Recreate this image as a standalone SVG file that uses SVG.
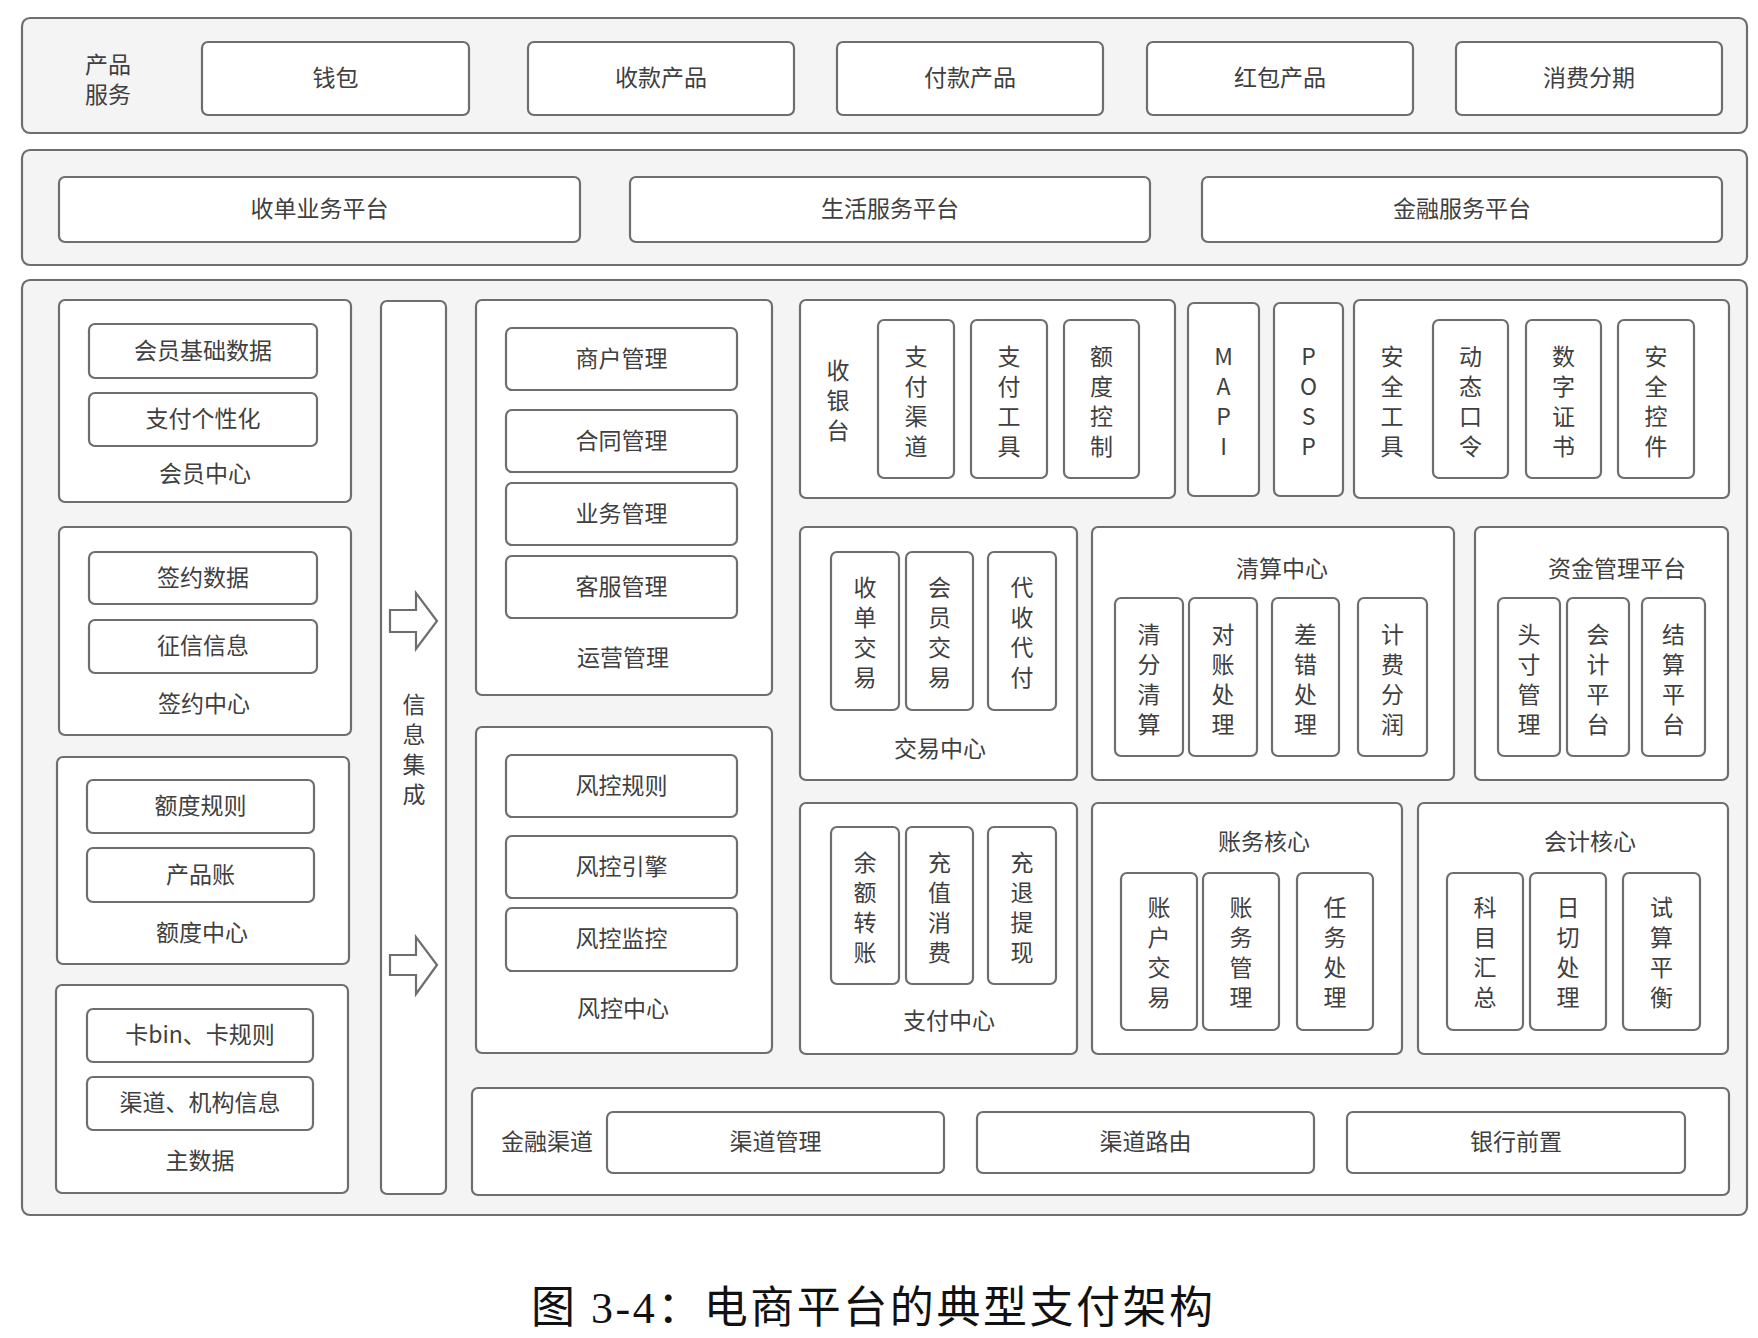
<svg xmlns="http://www.w3.org/2000/svg" width="1758" height="1338" viewBox="0 0 1758 1338">
  <style>
    .band { fill: #f4f4f4; stroke: #6e6e6e; stroke-width: 2.2; }
    .box { fill: #ffffff; stroke: #6e6e6e; stroke-width: 2.2; }
    .t { font-family: "Noto Sans CJK SC", "Noto Sans", sans-serif; font-size: 23px; fill: #404040; text-anchor: middle; dominant-baseline: central; }
    .arrow { fill: #ffffff; stroke: #6e6e6e; stroke-width: 2.2; stroke-linejoin: miter; }
    .cap { font-family: "Liberation Serif", "Noto Sans CJK SC", serif; font-size: 44px; fill: #111; text-anchor: middle; dominant-baseline: central; }
  </style>
  <rect width="1758" height="1338" fill="#ffffff"/>

  <!-- layer 1: product services -->
  <g id="product-layer">
    <rect class="band" x="22" y="18" width="1725" height="115" rx="8"/>
    <text class="t"><tspan x="108" y="63">产品</tspan><tspan x="108" y="93">服务</tspan></text>
  </g>
  <g id="wallet"><rect class="box" x="202" y="42" width="267" height="73" rx="6"/><text class="t" x="335.5" y="76">钱包</text></g>
  <g id="receive-product"><rect class="box" x="528" y="42" width="266" height="73" rx="6"/><text class="t" x="661" y="76">收款产品</text></g>
  <g id="pay-product"><rect class="box" x="837" y="42" width="266" height="73" rx="6"/><text class="t" x="970" y="76">付款产品</text></g>
  <g id="redpacket-product"><rect class="box" x="1147" y="42" width="266" height="73" rx="6"/><text class="t" x="1280" y="76">红包产品</text></g>
  <g id="installment"><rect class="box" x="1456" y="42" width="266" height="73" rx="6"/><text class="t" x="1589" y="76">消费分期</text></g>

  <!-- layer 2: business platforms -->
  <g id="platform-layer"><rect class="band" x="22" y="150" width="1725" height="115" rx="8"/></g>
  <g id="acquiring-platform"><rect class="box" x="59" y="177" width="521" height="65" rx="6"/><text class="t" x="319.5" y="207">收单业务平台</text></g>
  <g id="life-platform"><rect class="box" x="630" y="177" width="520" height="65" rx="6"/><text class="t" x="890" y="207">生活服务平台</text></g>
  <g id="finance-platform"><rect class="box" x="1202" y="177" width="520" height="65" rx="6"/><text class="t" x="1462" y="207">金融服务平台</text></g>

  <!-- layer 3: core systems -->
  <g id="core-layer"><rect class="band" x="22" y="280" width="1725" height="935" rx="8"/></g>

  <!-- left column -->
  <g id="member-center">
    <rect class="box" x="59" y="300" width="292" height="202" rx="6"/>
    <rect class="box" x="89" y="324" width="228" height="54" rx="6"/><text class="t" x="203" y="348.5">会员基础数据</text>
    <rect class="box" x="89" y="393" width="228" height="53" rx="6"/><text class="t" x="203" y="417">支付个性化</text>
    <text class="t" x="205" y="472">会员中心</text>
  </g>
  <g id="contract-center">
    <rect class="box" x="59" y="527" width="292" height="208" rx="6"/>
    <rect class="box" x="89" y="552" width="228" height="52" rx="6"/><text class="t" x="203" y="575.5">签约数据</text>
    <rect class="box" x="89" y="620" width="228" height="53" rx="6"/><text class="t" x="203" y="644">征信信息</text>
    <text class="t" x="204" y="702">签约中心</text>
  </g>
  <g id="quota-center">
    <rect class="box" x="57" y="757" width="292" height="207" rx="6"/>
    <rect class="box" x="87" y="780" width="227" height="53" rx="6"/><text class="t" x="200.5" y="804">额度规则</text>
    <rect class="box" x="87" y="848" width="227" height="54" rx="6"/><text class="t" x="200.5" y="872.5">产品账</text>
    <text class="t" x="202" y="931">额度中心</text>
  </g>
  <g id="master-data">
    <rect class="box" x="56" y="985" width="292" height="208" rx="6"/>
    <rect class="box" x="87" y="1009" width="226" height="53" rx="6"/><text class="t" x="200" y="1033">卡bin、卡规则</text>
    <rect class="box" x="87" y="1077" width="226" height="53" rx="6"/><text class="t" x="200" y="1101">渠道、机构信息</text>
    <text class="t" x="200" y="1159">主数据</text>
  </g>

  <!-- information integration column -->
  <g id="info-integration">
    <rect class="box" x="381" y="301" width="65" height="893" rx="6"/>
    <text class="t"><tspan x="414" y="703">信</tspan><tspan x="414" y="733">息</tspan><tspan x="414" y="763">集</tspan><tspan x="414" y="793">成</tspan></text>
  </g>

  <!-- operations and risk -->
  <g id="operations">
    <rect class="box" x="476" y="300" width="296" height="395" rx="6"/>
    <rect class="box" x="506" y="328" width="231" height="62" rx="6"/><text class="t" x="621.5" y="356.5">商户管理</text>
    <rect class="box" x="506" y="410" width="231" height="62" rx="6"/><text class="t" x="621.5" y="438.5">合同管理</text>
    <rect class="box" x="506" y="483" width="231" height="62" rx="6"/><text class="t" x="621.5" y="511.5">业务管理</text>
    <rect class="box" x="506" y="556" width="231" height="62" rx="6"/><text class="t" x="621.5" y="584.5">客服管理</text>
    <text class="t" x="623" y="656">运营管理</text>
  </g>
  <g id="risk-center">
    <rect class="box" x="476" y="727" width="296" height="326" rx="6"/>
    <rect class="box" x="506" y="755" width="231" height="62" rx="6"/><text class="t" x="621.5" y="783.5">风控规则</text>
    <rect class="box" x="506" y="836" width="231" height="62" rx="6"/><text class="t" x="621.5" y="864.5">风控引擎</text>
    <rect class="box" x="506" y="908" width="231" height="63" rx="6"/><text class="t" x="621.5" y="937">风控监控</text>
    <text class="t" x="623" y="1007">风控中心</text>
  </g>

  <!-- cashier -->
  <g id="cashier">
    <rect class="box" x="800" y="300" width="375" height="198" rx="6"/>
    <text class="t"><tspan x="838" y="369">收</tspan><tspan x="838" y="399">银</tspan><tspan x="838" y="429">台</tspan></text>
    <rect class="box" x="878" y="320" width="76" height="158" rx="6"/>
    <text class="t"><tspan x="916" y="355">支</tspan><tspan x="916" y="385">付</tspan><tspan x="916" y="415">渠</tspan><tspan x="916" y="445">道</tspan></text>
    <rect class="box" x="971" y="320" width="76" height="158" rx="6"/>
    <text class="t"><tspan x="1009" y="355">支</tspan><tspan x="1009" y="385">付</tspan><tspan x="1009" y="415">工</tspan><tspan x="1009" y="445">具</tspan></text>
    <rect class="box" x="1064" y="320" width="75" height="158" rx="6"/>
    <text class="t"><tspan x="1101.5" y="355">额</tspan><tspan x="1101.5" y="385">度</tspan><tspan x="1101.5" y="415">控</tspan><tspan x="1101.5" y="445">制</tspan></text>
  </g>
  <g id="mapi">
    <rect class="box" x="1188" y="303" width="71" height="193" rx="6"/>
    <text class="t"><tspan x="1223.5" y="355">M</tspan><tspan x="1223.5" y="385">A</tspan><tspan x="1223.5" y="415">P</tspan><tspan x="1223.5" y="445">I</tspan></text>
  </g>
  <g id="posp">
    <rect class="box" x="1274" y="303" width="69" height="193" rx="6"/>
    <text class="t"><tspan x="1308.5" y="355">P</tspan><tspan x="1308.5" y="385">O</tspan><tspan x="1308.5" y="415">S</tspan><tspan x="1308.5" y="445">P</tspan></text>
  </g>
  <g id="security-tools">
    <rect class="box" x="1354" y="300" width="375" height="198" rx="6"/>
    <text class="t"><tspan x="1392" y="355">安</tspan><tspan x="1392" y="385">全</tspan><tspan x="1392" y="415">工</tspan><tspan x="1392" y="445">具</tspan></text>
    <rect class="box" x="1433" y="320" width="75" height="158" rx="6"/>
    <text class="t"><tspan x="1470.5" y="355">动</tspan><tspan x="1470.5" y="385">态</tspan><tspan x="1470.5" y="415">口</tspan><tspan x="1470.5" y="445">令</tspan></text>
    <rect class="box" x="1526" y="320" width="75" height="158" rx="6"/>
    <text class="t"><tspan x="1563.5" y="355">数</tspan><tspan x="1563.5" y="385">字</tspan><tspan x="1563.5" y="415">证</tspan><tspan x="1563.5" y="445">书</tspan></text>
    <rect class="box" x="1618" y="320" width="76" height="158" rx="6"/>
    <text class="t"><tspan x="1656" y="355">安</tspan><tspan x="1656" y="385">全</tspan><tspan x="1656" y="415">控</tspan><tspan x="1656" y="445">件</tspan></text>
  </g>

  <!-- trade / clearing / funds -->
  <g id="trade-center">
    <rect class="box" x="800" y="527" width="277" height="253" rx="6"/>
    <rect class="box" x="831" y="552" width="68" height="158" rx="6"/>
    <text class="t"><tspan x="865" y="586">收</tspan><tspan x="865" y="616">单</tspan><tspan x="865" y="646">交</tspan><tspan x="865" y="676">易</tspan></text>
    <rect class="box" x="906" y="552" width="67" height="158" rx="6"/>
    <text class="t"><tspan x="939.5" y="586">会</tspan><tspan x="939.5" y="616">员</tspan><tspan x="939.5" y="646">交</tspan><tspan x="939.5" y="676">易</tspan></text>
    <rect class="box" x="988" y="552" width="68" height="158" rx="6"/>
    <text class="t"><tspan x="1022" y="586">代</tspan><tspan x="1022" y="616">收</tspan><tspan x="1022" y="646">代</tspan><tspan x="1022" y="676">付</tspan></text>
    <text class="t" x="940" y="747">交易中心</text>
  </g>
  <g id="clearing-center">
    <rect class="box" x="1092" y="527" width="362" height="253" rx="6"/>
    <text class="t" x="1282" y="567">清算中心</text>
    <rect class="box" x="1115" y="598" width="68" height="158" rx="6"/>
    <text class="t"><tspan x="1149" y="633">清</tspan><tspan x="1149" y="663">分</tspan><tspan x="1149" y="693">清</tspan><tspan x="1149" y="723">算</tspan></text>
    <rect class="box" x="1189" y="598" width="68" height="158" rx="6"/>
    <text class="t"><tspan x="1223" y="633">对</tspan><tspan x="1223" y="663">账</tspan><tspan x="1223" y="693">处</tspan><tspan x="1223" y="723">理</tspan></text>
    <rect class="box" x="1272" y="598" width="67" height="158" rx="6"/>
    <text class="t"><tspan x="1305.5" y="633">差</tspan><tspan x="1305.5" y="663">错</tspan><tspan x="1305.5" y="693">处</tspan><tspan x="1305.5" y="723">理</tspan></text>
    <rect class="box" x="1358" y="598" width="69" height="158" rx="6"/>
    <text class="t"><tspan x="1392.5" y="633">计</tspan><tspan x="1392.5" y="663">费</tspan><tspan x="1392.5" y="693">分</tspan><tspan x="1392.5" y="723">润</tspan></text>
  </g>
  <g id="fund-platform">
    <rect class="box" x="1475" y="527" width="253" height="253" rx="6"/>
    <text class="t" x="1617" y="567">资金管理平台</text>
    <rect class="box" x="1498" y="598" width="62" height="158" rx="6"/>
    <text class="t"><tspan x="1529" y="633">头</tspan><tspan x="1529" y="663">寸</tspan><tspan x="1529" y="693">管</tspan><tspan x="1529" y="723">理</tspan></text>
    <rect class="box" x="1567" y="598" width="62" height="158" rx="6"/>
    <text class="t"><tspan x="1598" y="633">会</tspan><tspan x="1598" y="663">计</tspan><tspan x="1598" y="693">平</tspan><tspan x="1598" y="723">台</tspan></text>
    <rect class="box" x="1642" y="598" width="63" height="158" rx="6"/>
    <text class="t"><tspan x="1673.5" y="633">结</tspan><tspan x="1673.5" y="663">算</tspan><tspan x="1673.5" y="693">平</tspan><tspan x="1673.5" y="723">台</tspan></text>
  </g>

  <!-- payment / accounting -->
  <g id="payment-center">
    <rect class="box" x="800" y="803" width="277" height="251" rx="6"/>
    <rect class="box" x="831" y="827" width="68" height="157" rx="6"/>
    <text class="t"><tspan x="865" y="861">余</tspan><tspan x="865" y="891">额</tspan><tspan x="865" y="921">转</tspan><tspan x="865" y="951">账</tspan></text>
    <rect class="box" x="906" y="827" width="67" height="157" rx="6"/>
    <text class="t"><tspan x="939.5" y="861">充</tspan><tspan x="939.5" y="891">值</tspan><tspan x="939.5" y="921">消</tspan><tspan x="939.5" y="951">费</tspan></text>
    <rect class="box" x="988" y="827" width="68" height="157" rx="6"/>
    <text class="t"><tspan x="1022" y="861">充</tspan><tspan x="1022" y="891">退</tspan><tspan x="1022" y="921">提</tspan><tspan x="1022" y="951">现</tspan></text>
    <text class="t" x="949" y="1019">支付中心</text>
  </g>
  <g id="ledger-core">
    <rect class="box" x="1092" y="803" width="310" height="251" rx="6"/>
    <text class="t" x="1264" y="840">账务核心</text>
    <rect class="box" x="1121" y="873" width="76" height="157" rx="6"/>
    <text class="t"><tspan x="1159" y="906">账</tspan><tspan x="1159" y="936">户</tspan><tspan x="1159" y="966">交</tspan><tspan x="1159" y="996">易</tspan></text>
    <rect class="box" x="1203" y="873" width="76" height="157" rx="6"/>
    <text class="t"><tspan x="1241" y="906">账</tspan><tspan x="1241" y="936">务</tspan><tspan x="1241" y="966">管</tspan><tspan x="1241" y="996">理</tspan></text>
    <rect class="box" x="1297" y="873" width="76" height="157" rx="6"/>
    <text class="t"><tspan x="1335" y="906">任</tspan><tspan x="1335" y="936">务</tspan><tspan x="1335" y="966">处</tspan><tspan x="1335" y="996">理</tspan></text>
  </g>
  <g id="accounting-core">
    <rect class="box" x="1418" y="803" width="310" height="251" rx="6"/>
    <text class="t" x="1590" y="840">会计核心</text>
    <rect class="box" x="1447" y="873" width="76" height="157" rx="6"/>
    <text class="t"><tspan x="1485" y="906">科</tspan><tspan x="1485" y="936">目</tspan><tspan x="1485" y="966">汇</tspan><tspan x="1485" y="996">总</tspan></text>
    <rect class="box" x="1530" y="873" width="76" height="157" rx="6"/>
    <text class="t"><tspan x="1568" y="906">日</tspan><tspan x="1568" y="936">切</tspan><tspan x="1568" y="966">处</tspan><tspan x="1568" y="996">理</tspan></text>
    <rect class="box" x="1623" y="873" width="77" height="157" rx="6"/>
    <text class="t"><tspan x="1661.5" y="906">试</tspan><tspan x="1661.5" y="936">算</tspan><tspan x="1661.5" y="966">平</tspan><tspan x="1661.5" y="996">衡</tspan></text>
  </g>

  <!-- financial channels -->
  <g id="financial-channel">
    <rect class="box" x="472" y="1088" width="1257" height="107" rx="6"/>
    <text class="t" x="547" y="1140">金融渠道</text>
    <rect class="box" x="607" y="1112" width="337" height="61" rx="6"/><text class="t" x="775.5" y="1140">渠道管理</text>
    <rect class="box" x="977" y="1112" width="337" height="61" rx="6"/><text class="t" x="1145.5" y="1140">渠道路由</text>
    <rect class="box" x="1347" y="1112" width="338" height="61" rx="6"/><text class="t" x="1516" y="1140">银行前置</text>
  </g>

  <!-- connectors: block arrows inside the integration column -->
  <g id="connectors">
    <path class="arrow" d="M390,610 H416 V593 L437,621 L416,649 V632 H390 Z"/>
    <path class="arrow" d="M390,955 H416 V937 L437,965 L416,994 V975 H390 Z"/>
  </g>

  <text class="cap" x="872" y="1308" textLength="682" lengthAdjust="spacing">图 3-4：电商平台的典型支付架构</text>
</svg>
